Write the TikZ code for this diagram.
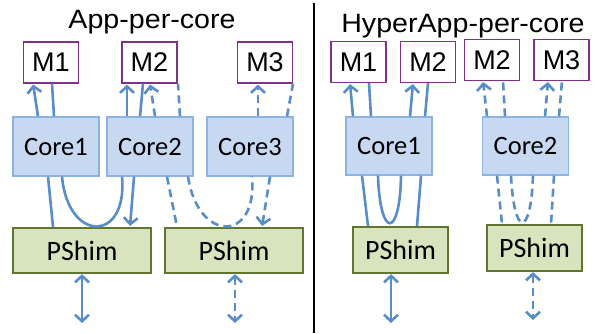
\documentclass[tikz,border=0pt]{standalone}
\usepackage{fontspec}
\usetikzlibrary{arrows.meta}
\newfontfamily\lsans{Liberation Sans}
\newfontfamily\carl{Carlito}
\definecolor{conn}{RGB}{88,141,200}
\definecolor{corefill}{RGB}{198,217,241}
\definecolor{coreline}{RGB}{141,179,226}
\definecolor{shimfill}{RGB}{215,228,189}
\definecolor{shimline}{RGB}{95,117,48}
\definecolor{memline}{RGB}{128,48,140}
\tikzset{
 membox/.style={draw=memline, line width=1.1pt, fill=white, minimum width=55pt, minimum height=41pt, inner sep=0pt, font=\lsans\fontsize{27}{30}\selectfont},
 corebox/.style={draw=coreline, line width=1.3pt, fill=corefill, minimum width=86pt, minimum height=59pt, inner sep=0pt, font=\carl\fontsize{26.5}{30}\selectfont},
 shimbox/.style={draw=shimline, line width=2.2pt, fill=shimfill, minimum height=45pt, inner sep=0pt, font=\carl\fontsize{28}{32}\selectfont},
 titletext/.style={anchor=base, inner sep=0pt, font=\lsans\fontsize{26.5}{30}\selectfont},
 wire/.style={draw=conn, line width=2.6pt},
 dwire/.style={wire, dash pattern=on 8pt off 5pt},
 uptip/.style={-{Straight Barb[length=6.5pt,width=14pt]}, shorten >=1pt},
 bitip/.style={{Straight Barb[length=6.5pt,width=14pt]}-{Straight Barb[length=6.5pt,width=14pt]}},
}
\begin{document}
\begin{tikzpicture}[x=1pt,y=-1pt]
\useasboundingbox (0,0) rectangle (601,333);
% titles
\node[titletext] (t1) at (152,28) {\scalebox{1.08}[1]{App-per-core}};
\node[titletext] (t2) at (463,32) {\scalebox{1.08}[1]{HyperApp-per-core}};
% divider
\coordinate (dtop) at (314,3);
\coordinate (dbot) at (314,333);
\draw[line width=2.4pt] (dtop) -- (dbot);
% left panel nodes
\node[membox] (m1) at (51,62.5) {M1};
\node[membox] (m2) at (149.5,62.5) {M2};
\node[membox] (m3) at (265,62.5) {M3};
\node[corebox] (c1) at (56,146.5) {Core1};
\node[corebox] (c2) at (150,146.5) {Core2};
\node[corebox] (c3) at (250,146.5) {Core3};
\node[shimbox, minimum width=138pt] (p1) at (82,250.5) {PShim};
\node[shimbox, minimum width=138pt] (p2) at (234,250.5) {PShim};
% right panel nodes
\node[membox] (rm1) at (358.5,62) {M1};
\node[membox] (rm2) at (428,62) {M2};
\node[membox] (rm3) at (492,60) {M2};
\node[membox] (rm4) at (561.5,60) {M3};
\node[corebox, minimum height=58pt] (rc1) at (389,146) {Core1};
\node[corebox, minimum height=58pt] (rc2) at (525.5,146) {Core2};
\node[shimbox, minimum width=95pt, minimum height=46pt] (rp1) at (400.5,250) {PShim};
\node[shimbox, minimum width=95pt, minimum height=46pt] (rp2) at (534.5,248) {PShim};
% ---- left: cores to memories
\draw[wire, uptip] (38,0 |- c1.north) -- (33,0 |- m1.south);
\draw[wire] (54,0 |- c1.north) -- (52,0 |- m1.south);
\draw[wire, uptip] (127,0 |- c2.north) -- (127,0 |- m2.south);
\draw[wire] (140,0 |- c2.north) -- (143,0 |- m2.south);
\draw[dwire, uptip] (155,0 |- c2.north) -- (150,0 |- m2.south);
\draw[dwire] (180,0 |- c2.north) -- (178,0 |- m2.south);
\draw[dwire, uptip] (258,0 |- c3.north) -- (258,0 |- m3.south);
\draw[dwire] (287,0 |- c3.north) -- (293,0 |- m3.south);
% ---- left: cores to pshims
\draw[wire] (48,0 |- c1.south) -- (53,0 |- p1.north);
\draw[wire] (62,0 |- c1.south) .. controls (68,243) and (128,243) .. (122,0 |- c2.south);
\draw[wire, uptip] (134,0 |- c2.south) -- (130,0 |- p1.north);
\draw[dwire] (167,0 |- c2.south) -- (177,0 |- p2.north);
\draw[dwire] (188,0 |- c2.south) .. controls (198,243) and (258,243) .. (252,0 |- c3.south);
\draw[dwire, uptip] (270,0 |- c3.south) -- (262,0 |- p2.north);
% ---- left: external
\coordinate (b1) at (82,323);
\coordinate (b2) at (235,323);
\draw[wire, bitip] (82,0 |- p1.south) -- (b1);
\draw[dwire, bitip] (235,0 |- p2.south) -- (b2);
% ---- right: cores to memories
\draw[wire, uptip] (353,0 |- rc1.north) -- (350,0 |- rm1.south);
\draw[wire] (371,0 |- rc1.north) -- (369,0 |- rm1.south);
\draw[wire, uptip] (410,0 |- rc1.north) -- (413,0 |- rm2.south);
\draw[wire] (425,0 |- rc1.north) -- (428,0 |- rm2.south);
\draw[dwire, uptip] (487,0 |- rc2.north) -- (483,0 |- rm3.south);
\draw[dwire] (505,0 |- rc2.north) -- (503,0 |- rm3.south);
\draw[dwire, uptip] (545,0 |- rc2.north) -- (548,0 |- rm4.south);
\draw[dwire] (559,0 |- rc2.north) -- (562,0 |- rm4.south);
% ---- right: cores to pshims
\draw[wire] (362,0 |- rc1.south) -- (368,0 |- rp1.north);
\draw[wire] (378,0 |- rc1.south) .. controls (380,239) and (400,239) .. (401,0 |- rc1.south);
\draw[wire] (421,0 |- rc1.south) -- (417,0 |- rp1.north);
\draw[dwire] (497,0 |- rc2.south) -- (502,0 |- rp2.north);
\draw[dwire] (511,0 |- rc2.south) .. controls (514,238) and (531,238) .. (533,0 |- rc2.south);
\draw[dwire] (554,0 |- rc2.south) -- (551,0 |- rp2.north);
% ---- right: external
\coordinate (b3) at (391,323);
\coordinate (b4) at (533,320);
\draw[wire, bitip] (391,0 |- rp1.south) -- (b3);
\draw[dwire, bitip] (533,0 |- rp2.south) -- (b4);
\end{tikzpicture}
\end{document}
